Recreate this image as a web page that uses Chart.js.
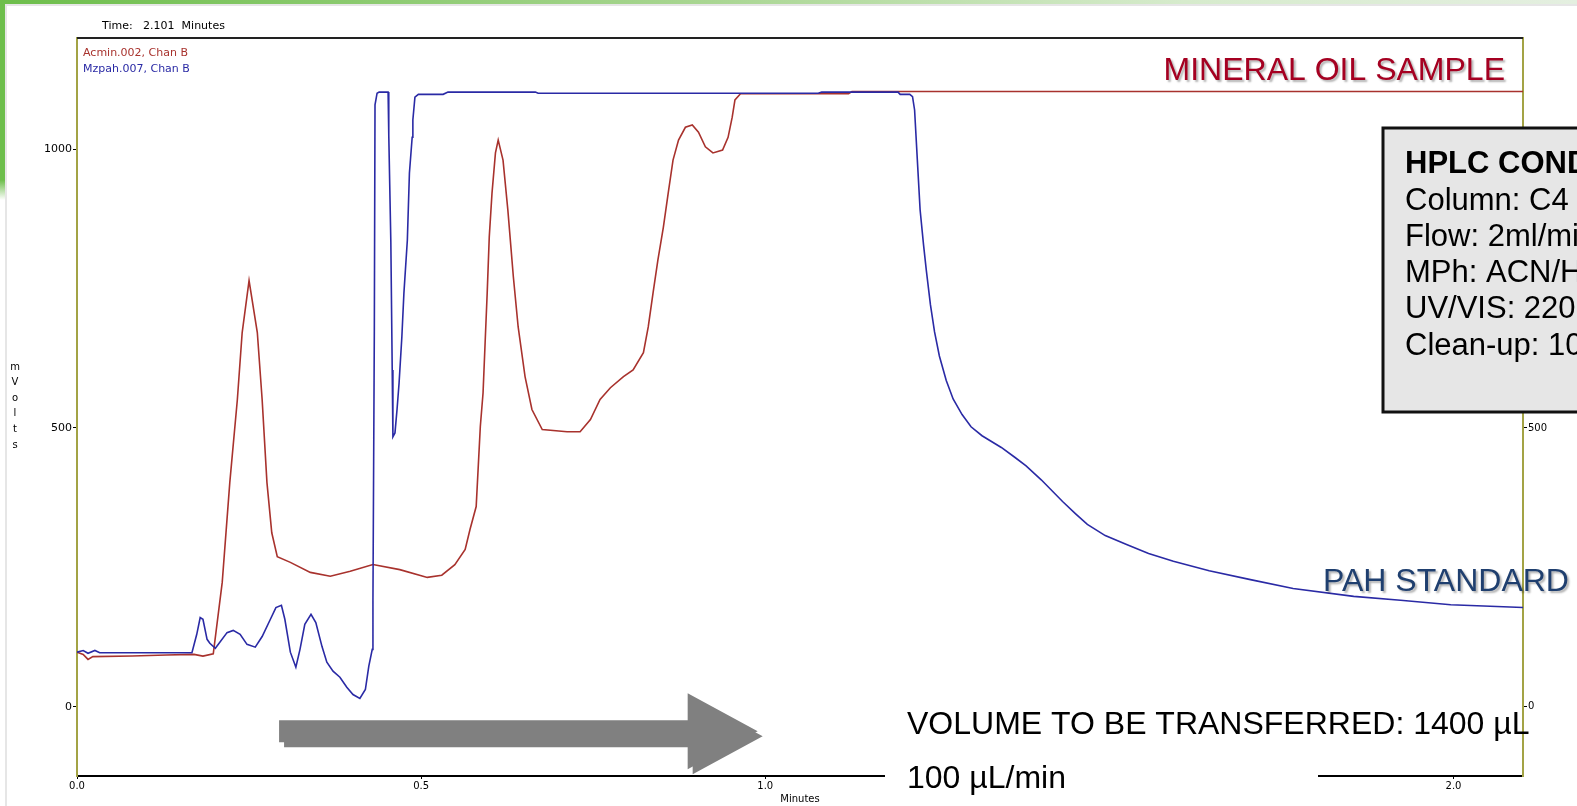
<!DOCTYPE html>
<html>
<head>
<meta charset="utf-8">
<title>HPLC chromatogram - mineral oil vs PAH standard</title>
<script src="https://cdn.jsdelivr.net/npm/chart.js@4.4.1/dist/chart.umd.min.js"></script>
<style>
  html, body { margin: 0; padding: 0; background: #fff; }
  #chart { display: block; }
</style>
</head>
<body>
<canvas id="chart" width="1577" height="806"></canvas>
<script>
// Acmin.002 (mineral oil sample) - time in minutes, signal in mV
const mineralTimes = [
  0.000, 0.009, 0.016, 0.023, 0.080, 0.130, 0.170, 0.183, 0.198, 0.211,
  0.222, 0.233, 0.240, 0.250, 0.262, 0.269, 0.276, 0.283, 0.291, 0.310,
  0.339, 0.368, 0.397, 0.430, 0.469, 0.509, 0.530, 0.549, 0.564, 0.571,
  0.580, 0.586, 0.590, 0.593, 0.596, 0.599, 0.603, 0.608, 0.612, 0.619,
  0.626, 0.634, 0.641, 0.651, 0.661, 0.676, 0.712, 0.731, 0.746, 0.760,
  0.775, 0.794, 0.808, 0.823, 0.830, 0.837, 0.844, 0.852, 0.859, 0.866,
  0.874, 0.884, 0.894, 0.903, 0.913, 0.924, 0.938, 0.946, 0.952, 0.956,
  0.964, 1.121, 1.126, 2.101
];
const mineralValues = [
  98, 94, 85, 90, 91, 93, 94, 91, 95, 223,
  402, 551, 671, 764, 671, 551, 402, 312, 269, 259,
  241, 234, 243, 255, 246, 232, 236, 255, 282, 318,
  359, 502, 563, 653, 742, 842, 921, 993, 1016, 980,
  891, 771, 681, 592, 533, 497, 493, 493, 515, 551,
  572, 592, 604, 635, 681, 742, 801, 860, 921, 980,
  1016, 1039, 1043, 1030, 1004, 993, 998, 1021, 1057, 1088,
  1099, 1099, 1103, 1103
];

// Mzpah.007 (PAH standard)
const pahTimes = [
  0.000, 0.009, 0.016, 0.026, 0.033, 0.167, 0.174, 0.179, 0.183, 0.189,
  0.193, 0.201, 0.218, 0.227, 0.237, 0.247, 0.259, 0.269, 0.281, 0.289,
  0.297, 0.302, 0.310, 0.318, 0.324, 0.331, 0.340, 0.347, 0.356, 0.363,
  0.372, 0.382, 0.392, 0.401, 0.411, 0.419, 0.424, 0.429, 0.430, 0.432,
  0.433, 0.436, 0.439, 0.452, 0.453, 0.456, 0.458, 0.459, 0.462, 0.465,
  0.468, 0.472, 0.475, 0.480, 0.483, 0.487, 0.488, 0.491, 0.496, 0.532,
  0.539, 0.666, 0.670, 1.077, 1.082, 1.193, 1.196, 1.210, 1.214, 1.217,
  1.221, 1.225, 1.230, 1.234, 1.240, 1.246, 1.253, 1.263, 1.273, 1.286,
  1.299, 1.315, 1.343, 1.363, 1.379, 1.401, 1.432, 1.451, 1.468, 1.494,
  1.525, 1.557, 1.593, 1.645, 1.705, 1.767, 1.855, 1.923, 1.996, 2.101
];
const pahValues = [
  98, 101, 96, 101, 97, 97, 130, 160, 157, 121,
  114, 105, 133, 137, 130, 112, 107, 126, 157, 178,
  182, 157, 98, 71, 103, 148, 166, 151, 108, 80,
  64, 53, 35, 22, 15, 31, 73, 103, 190, 672,
  1079, 1100, 1102, 1102, 1025, 833, 604, 484, 491, 533,
  581, 663, 742, 837, 957, 1021, 1052, 1093, 1098, 1098,
  1102, 1102, 1100, 1100, 1102, 1102, 1098, 1098, 1094, 1070,
  980, 891, 828, 783, 721, 672, 629, 585, 552, 524,
  502, 486, 465, 447, 432, 407, 368, 346, 327, 307,
  291, 275, 261, 244, 228, 212, 198, 191, 183, 178
];

const xTickValues = [0, 0.5, 1.0, 1.5, 2.0];
const yTickValues = [0, 500, 1000];

const hplcTitle = "HPLC CONDITIONS";
const hplcLines = ["Column: C4", "Flow: 2ml/min", "MPh: ACN/H2O", "UV/VIS: 220 nm", "Clean-up: 100 µL"];

const mineralColor = "#a8322d";
const pahColor = "#2a2aa5";
const olive = "#a3a345";
const smallFont = "DejaVu Sans";
const bigFont = "'Liberation Sans', Arial, sans-serif";

// transfer arrow, placed in data units
const arrowStart = 0.2936;
const arrowTip = 0.989;
const arrowLevel = -44;

function toPoints(times, values) {
  return times.map((t, i) => ({ x: t, y: values[i] }));
}

function drawArrow(ctx, x0, x1, yc, dx, dy) {
  const shaft = 11, head = 38, headLen = 70;
  ctx.beginPath();
  ctx.moveTo(x0 + dx, yc - shaft + dy);
  ctx.lineTo(x1 - headLen + dx, yc - shaft + dy);
  ctx.lineTo(x1 - headLen + dx, yc - head + dy);
  ctx.lineTo(x1 + dx, yc + dy);
  ctx.lineTo(x1 - headLen + dx, yc + head + dy);
  ctx.lineTo(x1 - headLen + dx, yc + shaft + dy);
  ctx.lineTo(x0 + dx, yc + shaft + dy);
  ctx.closePath();
  ctx.fill();
}

const slidePlugin = {
  id: "slide",
  beforeDraw(chart) {
    const ctx = chart.ctx;
    ctx.save();
    ctx.fillStyle = "#fff";
    ctx.fillRect(0, 0, chart.width, chart.height);
    // green slide edges
    const g = ctx.createLinearGradient(0, 0, chart.width, 0);
    g.addColorStop(0, "#6dbe4b");
    g.addColorStop(0.45, "#a9d692");
    g.addColorStop(0.75, "#d6ebcc");
    g.addColorStop(1, "#e4efe0");
    ctx.fillStyle = g;
    ctx.fillRect(0, 0, chart.width, 4);
    const gl = ctx.createLinearGradient(0, 0, 0, 200);
    gl.addColorStop(0, "#6dbe4b");
    gl.addColorStop(0.9, "#6dbe4b");
    gl.addColorStop(1, "rgba(109,190,75,0)");
    ctx.fillStyle = gl;
    ctx.fillRect(0, 0, 5, 200);
    ctx.fillStyle = "#e6e6e6";
    ctx.fillRect(5, 4, chart.width - 5, 2);
    ctx.fillRect(5, 4, 2, chart.height);
    ctx.restore();
  },
  afterDraw(chart) {
    const ctx = chart.ctx;
    const area = chart.chartArea;
    const xs = chart.scales.x;
    const ys = chart.scales.y;
    ctx.save();

    // top frame line
    ctx.strokeStyle = "#222";
    ctx.lineWidth = 2;
    ctx.beginPath();
    ctx.moveTo(area.left, area.top);
    ctx.lineTo(area.right, area.top);
    ctx.stroke();

    // header and trace names
    ctx.textBaseline = "middle";
    ctx.textAlign = "left";
    ctx.fillStyle = "#000";
    ctx.font = "11px " + smallFont;
    ctx.fillText("Time:   2.101  Minutes", 102, 26);
    ctx.fillStyle = mineralColor;
    ctx.fillText("Acmin.002, Chan B", 83, 53);
    ctx.fillStyle = pahColor;
    ctx.fillText("Mzpah.007, Chan B", 83, 69);

    // axis titles
    ctx.fillStyle = "#000";
    ctx.font = "10px " + smallFont;
    ctx.textAlign = "center";
    "mVolts".split("").forEach((ch, i) => ctx.fillText(ch, 15, 367 + i * 15.6));
    ctx.fillText("Minutes", (area.left + area.right) / 2, 799);

    // trace labels
    ctx.shadowColor = "rgba(0,0,0,0.3)";
    ctx.shadowOffsetX = 2;
    ctx.shadowOffsetY = 2;
    ctx.shadowBlur = 2;
    ctx.font = "32px " + bigFont;
    ctx.textBaseline = "alphabetic";
    ctx.textAlign = "right";
    ctx.fillStyle = "#a50021";
    ctx.fillText("MINERAL OIL SAMPLE", 1505, 80);
    ctx.textAlign = "left";
    ctx.fillStyle = "#1f3f6f";
    ctx.fillText("PAH STANDARD", 1323, 591);
    ctx.shadowColor = "transparent";

    // HPLC conditions box
    ctx.fillStyle = "#e6e6e6";
    ctx.fillRect(1383, 128, 220, 284);
    ctx.strokeStyle = "#111";
    ctx.lineWidth = 3;
    ctx.strokeRect(1383, 128, 220, 284);
    ctx.fillStyle = "#000";
    ctx.textBaseline = "middle";
    ctx.font = "bold 31px " + bigFont;
    ctx.fillText(hplcTitle, 1405, 164);
    ctx.font = "31px " + bigFont;
    hplcLines.forEach((line, i) => ctx.fillText(line, 1405, 201 + i * 36.3));

    // transfer arrow
    ctx.fillStyle = "#808080";
    const ax0 = xs.getPixelForValue(arrowStart);
    const ax1 = xs.getPixelForValue(arrowTip);
    const ay = ys.getPixelForValue(arrowLevel);
    drawArrow(ctx, ax0, ax1, ay, 5, 5);
    drawArrow(ctx, ax0, ax1, ay, 0, 0);

    // transfer volume note
    ctx.fillStyle = "#fff";
    ctx.fillRect(885, 700, 433, 106);
    ctx.fillStyle = "#000";
    ctx.font = "32px " + bigFont;
    ctx.fillText("VOLUME TO BE TRANSFERRED: 1400 µL", 907, 725);
    ctx.fillText("100 µL/min", 907, 779);

    ctx.restore();
  }
};

const tickFont = { family: smallFont, size: 11 };

const chart = new Chart(document.getElementById("chart").getContext("2d"), {
  type: "line",
  data: {
    datasets: [
      {
        label: "Mzpah.007, Chan B",
        data: toPoints(pahTimes, pahValues),
        borderColor: pahColor,
        borderWidth: 1.6,
        pointRadius: 0,
        tension: 0,
        fill: false,
      },
      {
        label: "Acmin.002, Chan B",
        data: toPoints(mineralTimes, mineralValues),
        borderColor: mineralColor,
        borderWidth: 1.6,
        pointRadius: 0,
        tension: 0,
        fill: false,
      },
    ],
  },
  options: {
    responsive: false,
    animation: false,
    layout: { padding: { top: 38, left: 0, right: 0, bottom: 0 } },
    plugins: {
      legend: { display: false },
      tooltip: { enabled: false },
    },
    scales: {
      x: {
        type: "linear",
        position: "bottom",
        min: 0,
        max: 2.101,
        afterFit: (s) => { s.height = 30; },
        afterBuildTicks: (s) => { s.ticks = xTickValues.map((v) => ({ value: v })); },
        ticks: {
          font: { family: smallFont, size: 10 },
          color: "#000",
          padding: 1,
          maxRotation: 0,
          autoSkip: false,
          callback: (v) => Number(v).toFixed(1),
        },
        grid: { drawOnChartArea: false, drawTicks: true, tickLength: 3, color: "#000" },
        border: { color: "#000", width: 2 },
      },
      y: {
        type: "linear",
        position: "left",
        min: -124,
        max: 1199,
        afterFit: (s) => { s.width = 77; },
        afterBuildTicks: (s) => { s.ticks = yTickValues.map((v) => ({ value: v })); },
        ticks: { font: tickFont, color: "#000", padding: 1, callback: (v) => String(v) },
        grid: { drawOnChartArea: false, drawTicks: true, tickLength: 4, color: "#000" },
        border: { color: olive, width: 2 },
      },
      y2: {
        type: "linear",
        position: "right",
        min: -124,
        max: 1199,
        afterFit: (s) => { s.width = 54; },
        afterBuildTicks: (s) => { s.ticks = yTickValues.map((v) => ({ value: v })); },
        ticks: { font: { family: smallFont, size: 10 }, color: "#000", padding: 1, callback: (v) => String(v) },
        grid: { drawOnChartArea: false, drawTicks: true, tickLength: 4, color: "#000" },
        border: { color: olive, width: 2 },
      },
    },
  },
  plugins: [slidePlugin],
});
</script>
</body>
</html>
